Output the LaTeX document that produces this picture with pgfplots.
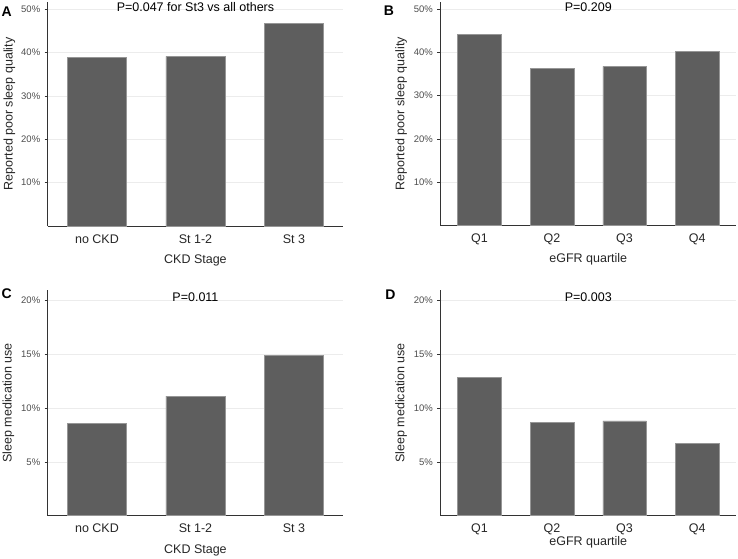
\documentclass[border=0pt]{standalone}
\usepackage{pgfplots}
\pgfplotsset{compat=1.18}
\usepackage{fontspec}
\setmainfont{Liberation Sans}

\definecolor{barc}{RGB}{94,94,94}
\definecolor{barline}{RGB}{150,150,150}
\definecolor{tickc}{RGB}{77,77,77}
\definecolor{gridc}{RGB}{236,236,236}

\newcommand{\labfont}{\fontsize{12.5}{14}\selectfont}

\pgfplotsset{
  panel/.style={
    scale only axis,
    ybar, bar width=0.6,
    axis x line*=bottom, axis y line*=left,
    axis line style={line width=0.6pt, black!80},
    ymin=0,
    ymajorgrids, grid style={gridc, line width=0.5pt},
    tick align=outside, major tick length=3pt,
    ytick style={black!80, line width=0.5pt},
    xtick style={draw=none},
    xtick=data,
    yticklabel style={font=\fontsize{9.5}{10}\selectfont, text=tickc,
      anchor=east, inner sep=0pt, xshift=-4.3pt},
    xticklabel style={font=\labfont, text=black!85,
      anchor=base, inner sep=0pt, yshift=-14pt},
    label style={font=\labfont, text=black!85},
    title style={font=\labfont, at={(axis description cs:0.5,1)},
      anchor=base},
    clip=false,
  },
  cat3/.style={xmin=0.5, xmax=3.5, xticklabels={no CKD, St 1-2, St 3},
    xlabel={CKD Stage}},
  cat4/.style={xmin=0.46, xmax=4.54, xticklabels={Q1, Q2, Q3, Q4},
    xlabel={eGFR quartile}},
  sleepq/.style={ymax=51.7, ytick={10,20,30,40,50},
    yticklabels={10\%,20\%,30\%,40\%,50\%},
    ylabel={Reported poor sleep quality}},
  sleepm/.style={ymax=20.94, ytick={5,10,15,20},
    yticklabels={5\%,10\%,15\%,20\%},
    ylabel={Sleep medication use}},
  bars/.style={fill=barc, draw=barline, line width=0.5pt},
}

\pgfplotstableread{
x y
1 38.85
2 39.15
3 46.85
}\stageqt
\pgfplotstableread{
x y
1 44.2
2 36.4
3 36.8
4 40.2
}\quartqt
\pgfplotstableread{
x y
1 8.6
2 11.1
3 14.9
}\stagemed
\pgfplotstableread{
x y
1 12.8
2 8.65
3 8.8
4 6.7
}\quartmed

\begin{document}
\begin{tikzpicture}[x=1pt,y=1pt]
\useasboundingbox (0,0) rectangle (738,558);

% A
\begin{axis}[panel, cat3, sleepq,
  at={(47.7pt,332pt)}, anchor=south west, width=295.5pt, height=224pt,
  title={P=0.047 for St3 vs all others}, title style={yshift=-15.8pt},
  xlabel style={at={(axis description cs:0.5,0)}, anchor=base, yshift=-37.3pt},
  ylabel style={at={(axis description cs:-0.119,0.5)}, anchor=base}]
\addplot[bars] table[x=x,y=y] {\stageqt};
\end{axis}

% B
\begin{axis}[panel, cat4, sleepq,
  at={(440.3pt,332.7pt)}, anchor=south west, width=296pt, height=223.3pt,
  title={P=0.209}, title style={yshift=-15.7pt},
  xlabel style={at={(axis description cs:0.5,0)}, anchor=base, yshift=-37pt},
  ylabel style={at={(axis description cs:-0.121,0.5)}, anchor=base}]
\addplot[bars] table[x=x,y=y] {\quartqt};
\end{axis}

% C
\begin{axis}[panel, cat3, sleepm,
  at={(47.7pt,42.3pt)}, anchor=south west, width=295.5pt, height=225.7pt,
  title={P=0.011}, title style={yshift=-17pt},
  xlabel style={at={(axis description cs:0.5,0)}, anchor=base, yshift=-37.6pt},
  ylabel style={at={(axis description cs:-0.1225,0.5)}, anchor=base}]
\addplot[bars] table[x=x,y=y] {\stagemed};
\end{axis}

% D
\begin{axis}[panel, cat4, sleepm,
  at={(440.3pt,42.3pt)}, anchor=south west, width=296pt, height=225.7pt,
  title={P=0.003}, title style={yshift=-17pt},
  xlabel style={at={(axis description cs:0.5,0)}, anchor=base, yshift=-30pt},
  ylabel style={at={(axis description cs:-0.121,0.5)}, anchor=base}]
\addplot[bars] table[x=x,y=y] {\quartmed};
\end{axis}

% panel letters
\begin{scope}[every node/.style={font=\fontsize{14}{16}\selectfont\bfseries, inner sep=0pt, anchor=center}]
\node at (6.7,546.3) {A};
\node at (389,547) {B};
\node at (6.7,264.5) {C};
\node at (390.5,263) {D};
\end{scope}
\end{tikzpicture}
\end{document}
